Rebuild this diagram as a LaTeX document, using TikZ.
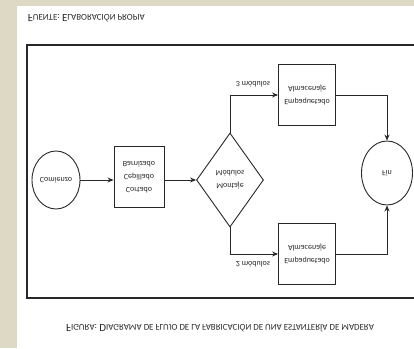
\documentclass[tikz,border=0pt]{standalone}
\usepackage{fontspec}
\setmainfont{Carlito}
\usetikzlibrary{shapes.geometric,arrows.meta}
\definecolor{papel}{RGB}{222,217,196}
\definecolor{trazo}{RGB}{40,40,40}
\newcommand\mayus[1]{{\fontsize{11}{12}\selectfont #1}}
\newcommand\versal[1]{{\fontsize{8.9}{10}\selectfont #1}}

\begin{document}
\begin{tikzpicture}[x=1pt,y=1pt,yscale=-1,transform shape,->,>={Stealth[length=6pt,width=5pt]},line width=1pt,color=trazo,
    main node/.style={draw,line width=0.9pt,font=\fontsize{8}{13}\selectfont,align=center,inner sep=0pt},
    caja/.style={main node,rectangle,minimum width=57pt,minimum height=61pt},
    vh/.style={to path={|- (\tikztotarget)}},
    hv/.style={to path={-| (\tikztotarget)}}]
    \useasboundingbox (0,0) rectangle (414,348);
    \fill[papel] (0,0) rectangle (414,348);
    \fill[white] (17,6) rectangle (414,348);
    \draw[-,line width=1.4pt] (27,45) rectangle (417,298);

    \node[anchor=west] (fuente) at (24,18) {\mayus{F}\versal{UENTE:} \mayus{E}\versal{LABORACIÓN PROPIA}};
    \node (figura) at (220,328) {\mayus{F}\versal{IGURA:} \mayus{D}\versal{IAGRAMA DE FLUJO DE LA FABRICACIÓN DE UNA ESTANTERÍA DE MADERA}};

    \node[main node,ellipse,minimum width=48pt,minimum height=58pt] (1) at (56,180) {Comienzo};
    \node[caja,minimum width=50pt] (2) at (139,177) {Cortado\\Cepillado\\Barnizado};
    \node[main node,diamond,minimum width=67pt,minimum height=94pt] (3) at (230,180) {Montaje\\Módulos};
    \node[caja] (4) at (307,95) {Empaquetado\\Almacenaje};
    \node[caja] (5) at (307,254) {Empaquetado\\Almacenaje};
    \node[main node,ellipse,minimum width=51pt,minimum height=64pt] (6) at (387,173) {Fin};

    \node[font=\fontsize{8}{9}\selectfont] (m3) at (253,84) {3 módulos};
    \node[font=\fontsize{8}{9}\selectfont] (m2) at (253,264) {2 módulos};

    \path
        (1) edge (1 -| 2.west)
        (2.east |- 3) edge (3)
        (3) edge[vh] (4)
        (3) edge[vh] (5)
        (4) edge[hv] (6)
        (5) edge[hv] (6)
        ;
\end{tikzpicture}
\end{document}
